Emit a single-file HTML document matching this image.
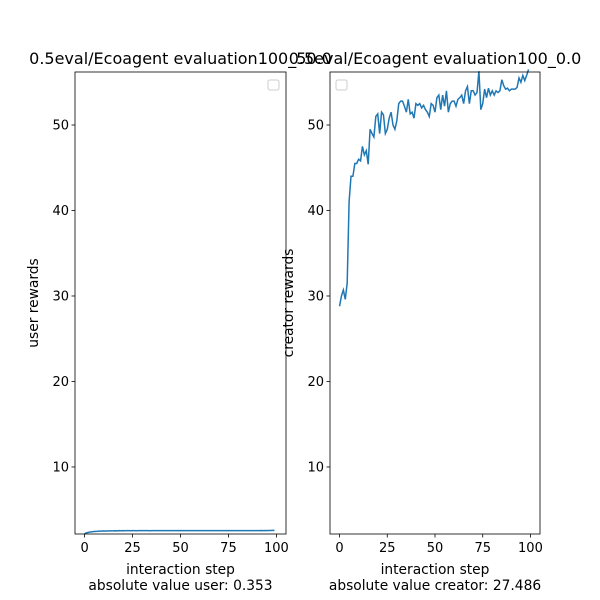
<!DOCTYPE html>
<html><head><meta charset="utf-8"><style>body{margin:0;background:#fff}svg{display:block;font-family:"DejaVu Sans","Liberation Sans",sans-serif}</style></head>
<body>
<svg id="c" width="600" height="600"></svg>
<script>
const xTicks=[0,25,50,75,100];
const yTicks=[10,20,30,40,50];
const userVals=[2.2,2.3,2.35,2.4,2.42,2.45,2.47,2.48,2.5,2.5,2.52,2.5,2.52,2.53,2.52,2.53,2.54,2.53,2.55,2.54,2.55,2.54,2.55,2.55,2.54,2.56,2.55,2.54,2.56,2.55,2.56,2.55,2.56,2.55,2.54,2.56,2.55,2.56,2.55,2.56,2.55,2.56,2.56,2.55,2.56,2.55,2.56,2.55,2.56,2.56,2.55,2.56,2.55,2.56,2.56,2.55,2.56,2.55,2.56,2.56,2.55,2.56,2.56,2.55,2.56,2.56,2.55,2.56,2.56,2.55,2.56,2.56,2.55,2.56,2.56,2.55,2.56,2.55,2.56,2.56,2.55,2.56,2.56,2.55,2.56,2.56,2.55,2.56,2.56,2.55,2.56,2.56,2.57,2.56,2.57,2.56,2.57,2.57,2.58,2.58];
const creatorVals=[28.8,30,30.7,29.6,31.5,41,44,44,45.5,45.5,46,45.8,47.5,46.5,47,45.4,49.5,49,48.6,51,51.3,49,51.5,51.2,49,49.5,50.8,51.5,50,49.5,50.5,52.5,52.8,52.8,52.2,51.5,53,51.3,51.5,50.8,52.5,52.3,52.5,52,52.3,51.8,51.5,51,52.5,52.3,51.5,53.2,53.5,51.8,53.5,52.2,54,51.5,52.5,52.8,52.8,52.2,53,53.2,53.5,52.5,54,54.5,52.5,54,54,53.5,53.8,56.3,51.8,52.5,54.2,53.2,54.3,53.5,54,53.5,54,53.8,54,55.3,54.6,54.2,54.3,54,54.2,54.2,54.2,54.4,55.5,55,55.8,55.2,55.8,56.5];
const panels=[
 {x0:75,x1:286,vals:userVals,title:"0.5eval/Ecoagent evaluation100_50.0",ylab:"user rewards",foot:"absolute value user: 0.353",n:"user"},
 {x0:330,x1:540,vals:creatorVals,title:"0.5eval/Ecoagent evaluation100_0.0",ylab:"creator rewards",foot:"absolute value creator: 27.486",n:"creator"}];
const svg=document.getElementById('c');const NS='http://www.w3.org/2000/svg';
function mk(t,a,txt){const e=document.createElementNS(NS,t);for(const k in a)e.setAttribute(k,a[k]);if(txt!=null)e.textContent=txt;svg.appendChild(e);return e;}
const Y0=534,Y1=72,ymin=2.16,ymax=56.2;
const ys=v=>Y0-(v-ymin)/(ymax-ymin)*(Y0-Y1);
panels.forEach(p=>{
 const xsc=v=>p.x0+(v+5)/110*(p.x1-p.x0);
 let d=p.vals.map((v,i)=>(i?'L':'M')+xsc(i).toFixed(2)+','+ys(v).toFixed(2)).join('');
 let e=mk('path',{d:d,fill:'none',stroke:'#1f77b4','stroke-width':1.5});
 
 
 e=mk('rect',{x:p.x0,y:Y1,width:p.x1-p.x0,height:Y0-Y1,fill:'none',stroke:'#000','stroke-width':0.8});
 
 
 xTicks.forEach(t=>{const x=xsc(t);mk('line',{x1:x,x2:x,y1:Y0,y2:Y0+3.5,stroke:'#000','stroke-width':0.8});
  e=mk('text',{x:x,y:Y0+18,'font-size':13,'text-anchor':'middle'},t);
  
  });
 yTicks.forEach(t=>{const y=ys(t);mk('line',{x1:p.x0,x2:p.x0-3.5,y1:y,y2:y,stroke:'#000','stroke-width':0.8});
  e=mk('text',{x:p.x0-6,y:y+4.5,'font-size':13,'text-anchor':'end'},t);
  
  });
 const cx=(p.x0+p.x1)/2;
 e=mk('text',{x:cx,y:64,'font-size':16,'text-anchor':'middle'},p.title);
 
 
 e=mk('text',{x:cx,y:574,'font-size':13.8,'text-anchor':'middle'},'interaction step');
 
 
 e=mk('text',{x:cx,y:590,'font-size':13.8,'text-anchor':'middle'},p.foot);
 
 
 e=mk('text',{x:0,y:0,'font-size':13.8,'text-anchor':'middle',transform:`translate(${p.x0-37},${(Y0+Y1)/2}) rotate(-90)`},p.ylab);
 
 
 const lx=p.n==='user'?p.x1-18:p.x0+6;
 e=mk('rect',{x:lx,y:80,width:11,height:10,rx:2,fill:'#fff',stroke:'#ccc'});
 
 
});
</script>
</body></html>
